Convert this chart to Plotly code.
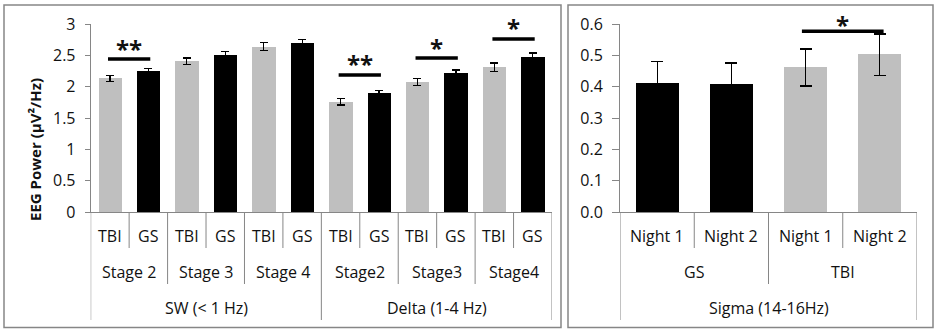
import plotly.graph_objects as go

# --- data ---
bands = ["SW (< 1 Hz)", "Delta (1-4 Hz)"]
stages = [["Stage 2", "Stage 3", "Stage 4"], ["Stage2", "Stage3", "Stage4"]]
groups = ["TBI", "GS"]

# order: band -> stage -> group (TBI, GS)
power = [2.14, 2.25, 2.41, 2.51, 2.64, 2.70,
         1.76, 1.90, 2.08, 2.21, 2.31, 2.48]
power_err = [0.048, 0.045, 0.05, 0.055, 0.065, 0.06,
             0.05, 0.048, 0.055, 0.06, 0.07, 0.06]

sigma_groups = ["GS", "TBI"]
nights = ["Night 1", "Night 2"]
sigma = [0.412, 0.409, 0.462, 0.503]
sigma_err = [0.07, 0.067, 0.059, 0.066]

# significance: (first bar index, second bar index, bar height, label)
power_sig = [(0, 1, 2.445, "**"), (6, 7, 2.19, "**"),
             (8, 9, 2.46, "*"), (10, 11, 2.765, "*")]
sigma_sig = [(2, 3, 0.578, "*")]

W, H = 938, 334
FONT = "Open Sans"
GRAY = "#bfbfbf"
AXIS = "#868686"
TXT = "#111111"


def px(x):
    return x / W


def py(y):
    return 1 - y / H


fig = go.Figure()

# left panel bars
n_left = len(power)
left_x = list(range(n_left))
left_colors = [GRAY if groups[i % 2] == "TBI" else "black" for i in left_x]
fig.add_trace(go.Bar(x=left_x, y=power, width=0.61, marker_color=left_colors,
                     marker_line_width=0,
                     error_y=dict(type="data", array=power_err, color="black",
                                  thickness=1.2, width=4),
                     xaxis="x", yaxis="y", showlegend=False))

# right panel bars
right_x = list(range(len(sigma)))
right_colors = ["black" if sigma_groups[i // 2] == "GS" else GRAY for i in right_x]
fig.add_trace(go.Bar(x=right_x, y=sigma, width=0.58, marker_color=right_colors,
                     marker_line_width=0,
                     error_y=dict(type="data", array=sigma_err, color="black",
                                  thickness=1.2, width=6),
                     xaxis="x2", yaxis="y2", showlegend=False))

shapes = []
annotations = []

# outer frames
for x0, x1 in [(4, 561), (568, 933)]:
    shapes.append(dict(type="rect", xref="paper", yref="paper",
                       x0=px(x0), x1=px(x1), y0=py(327.5), y1=py(5),
                       line=dict(color=AXIS, width=1.5)))

row1, row2, row3 = py(236), py(272), py(308)
end1, end2, end3 = py(248), py(284), py(320)
axis_y = py(212)


def vline(xref, xv, yend):
    shapes.append(dict(type="line", xref=xref, yref="paper", x0=xv, x1=xv,
                       y0=axis_y, y1=yend, line=dict(color=AXIS, width=1)))


def label(xref, xv, yv, text):
    annotations.append(dict(xref=xref, yref="paper", x=xv, y=yv, text=text,
                            xanchor="center", yanchor="middle", showarrow=False,
                            font=dict(family=FONT, size=16, color=TXT)))


# left category table
for b, band in enumerate(bands):
    for s, stage in enumerate(stages[b]):
        base = b * 6 + s * 2
        for g, grp in enumerate(groups):
            label("x", base + g, row1, grp)
        vline("x", base + 0.5, end1)
        label("x", base + 0.5, row2, stage)
        if s > 0:
            vline("x", base - 0.5, end2)
    label("x", b * 6 + 2.5, row3, band)
for xv in [-0.5, 5.5, 11.5]:
    vline("x", xv, end3)

# right category table
for g, grp in enumerate(sigma_groups):
    for n, night in enumerate(nights):
        label("x2", g * 2 + n, row1, night)
    vline("x2", g * 2 + 0.5, end1)
    label("x2", g * 2 + 0.5, row2, grp)
vline("x2", 1.5, end2)
label("x2", 1.5, row3, "Sigma (14-16Hz)")
for xv in [-0.5, 3.5]:
    vline("x2", xv, end3)

# significance markers
for xr, yr, sigs, shift in [("x", "y", power_sig, 11), ("x2", "y2", sigma_sig, 7)]:
    for a, b, h, txt in sigs:
        shapes.append(dict(type="line", xref=xr, yref=yr, x0=a - 0.05, x1=b + 0.05,
                           y0=h, y1=h, line=dict(color="black", width=3.5)))
        annotations.append(dict(xref=xr, yref=yr, x=(a + b) / 2, y=h,
                                text="<b>" + txt + "</b>",
                                showarrow=False, yshift=shift, yanchor="middle",
                                xanchor="center",
                                font=dict(family=FONT, size=24, color=TXT)))

# y title
annotations.append(dict(xref="paper", yref="paper", x=px(35), y=py(150),
                        xanchor="center", yanchor="middle",
                        text="<b>EEG Power (µV²/Hz)</b>", textangle=-90, showarrow=False,
                        font=dict(family=FONT, size=15, color=TXT)))

ydom = [py(212), py(24.3)]
common_x = dict(showticklabels=False, ticks="", showline=True, linecolor=AXIS,
                linewidth=1, showgrid=False, zeroline=False, fixedrange=True,
                automargin=False)
common_y = dict(showline=True, linecolor=AXIS, linewidth=1, ticks="outside",
                tickcolor=AXIS, showgrid=False, zeroline=False, automargin=False,
                tickfont=dict(family=FONT, size=16, color=TXT), ticklabelstandoff=6)

fig.update_layout(
    template="none", autosize=False,
    width=W, height=H, margin=dict(l=0, r=0, t=0, b=0, pad=0),
    paper_bgcolor="white", plot_bgcolor="white",
    xaxis=dict(domain=[px(90.7), px(552)], range=[-0.5, 11.5], anchor="y", **common_x),
    yaxis=dict(domain=ydom, range=[0, 3], dtick=0.5, ticklen=5, anchor="x", **common_y),
    xaxis2=dict(domain=[px(620), px(917)], range=[-0.5, 3.5], anchor="y2", **common_x),
    yaxis2=dict(domain=ydom, range=[0, 0.6], dtick=0.1, tickformat=".1f", ticklen=7,
                anchor="x2", **common_y),
    shapes=shapes, annotations=annotations, bargap=0,
)

# page has a default 8px body margin; drop it so the figure fills the window
fig.write_html("out.html", config={"displayModeBar": False},
               post_script="document.body.style.margin='0';")
